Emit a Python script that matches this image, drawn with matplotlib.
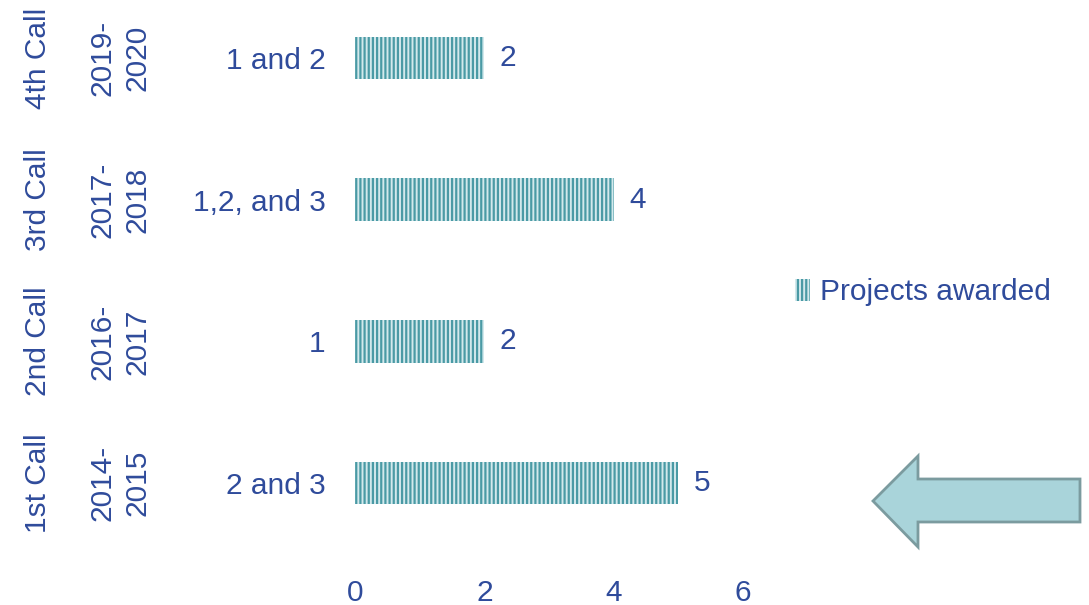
import matplotlib.pyplot as plt
from matplotlib.patches import Polygon, Patch
from matplotlib.transforms import blended_transform_factory

calls = ['1st Call', '2nd Call', '3rd Call', '4th Call']
periods = ['2014-\n2015', '2016-\n2017', '2017-\n2018', '2019-\n2020']
themes = ['2 and 3', '1', '1,2, and 3', '1 and 2']
projects = [5, 2, 4, 2]
xticks = [0, 2, 4, 6]

txt = '#2F4B9B'
stripe = '#4A9AA5'
light = '#D3E9EC'
fs = 21.5

plt.rcParams['font.family'] = ['Liberation Sans', 'DejaVu Sans']
plt.rcParams['hatch.linewidth'] = 1.6

fig = plt.figure(figsize=(10.89, 6.05), dpi=100)
ax = fig.add_axes([355/1089, 1 - 554/605, (743 - 355)/1089, 554/605])

pos = list(range(len(calls)))
bars = ax.barh(pos, projects, height=0.3, color=light, edgecolor=stripe,
               linewidth=0, hatch='||||')
ax.bar_label(bars, padding=11, fontsize=fs, color=txt)

ax.set_xlim(0, 6)
ax.set_ylim(-0.5, 3 + 58/141.7)
ax.set_xticks(xticks)
ax.set_xticklabels([str(t) for t in xticks], fontsize=fs, color=txt)
ax.set_yticks(pos)
ax.set_yticklabels(themes, fontsize=fs, color=txt)
ax.tick_params(axis='x', length=0, pad=18)
ax.tick_params(axis='y', length=0, pad=21)
for s in ax.spines.values():
    s.set_visible(False)

tr = blended_transform_factory(fig.transFigure, ax.transData)
for i in pos:
    ax.text(38/1089, i, calls[i], transform=tr, rotation=90, ha='center',
            va='center', fontsize=fs, color=txt)
    ax.text(120/1089, i, periods[i], transform=tr, rotation=90, ha='center',
            va='center', fontsize=fs, color=txt, linespacing=1.3)

handle = Patch(facecolor=light, edgecolor=stripe, linewidth=0, hatch='||||')
fig.legend([handle], ['Projects awarded'], loc='center left',
           bbox_to_anchor=(795/1089, 1 - 292/605), frameon=False,
           fontsize=fs, labelcolor=txt, handlelength=0.5, handleheight=0.75,
           handletextpad=0.35, borderpad=0, borderaxespad=0)

# decorative arrow pointing at the first call
pts = [(873, 501), (918, 456), (918, 479), (1080, 479),
       (1080, 522), (918, 522), (918, 547)]
arrow = Polygon([(x/1089, 1 - y/605) for x, y in pts], closed=True,
                transform=fig.transFigure, facecolor='#A9D4DA',
                edgecolor='#7B9B9F', linewidth=2)
fig.patches.append(arrow)

plt.savefig('out.png', dpi=100)
